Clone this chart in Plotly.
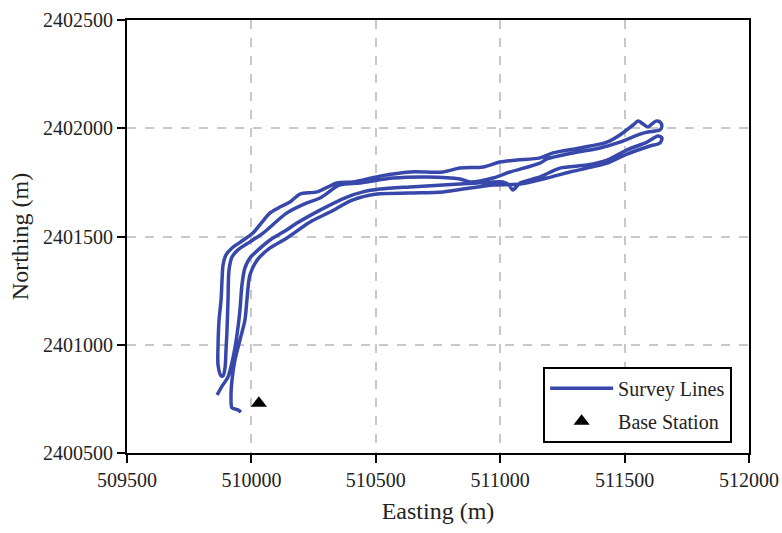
import plotly.graph_objects as go

# Survey line 1 (Easting, Northing in m)
line1_e = [509862, 509882, 509906, 509926, 509942, 509954, 509962, 509974, 509994, 510027,
           510075, 510135, 510183, 510276, 510384, 510449, 510517, 510637, 510770, 510907,
           511011, 511035, 511051, 511080, 511160, 511240, 511349, 511429, 511510, 511590,
           511634, 511650, 511642, 511602, 511510, 511429, 511349, 511280, 511188, 511080,
           510971, 510879, 510770, 510637, 510505, 510408, 510316, 510236, 510143, 510075,
           510023, 509994, 509982, 509974, 509954, 509934, 509922, 509918, 509922, 509946,
           509958]
line1_n = [2400768, 2400809, 2400851, 2400939, 2401045, 2401160, 2401276, 2401355, 2401401, 2401438,
           2401484, 2401525, 2401562, 2401622, 2401682, 2401706, 2401719, 2401729, 2401738, 2401747,
           2401752, 2401738, 2401715, 2401747, 2401775, 2401816, 2401830, 2401853, 2401900, 2401936,
           2401964, 2401955, 2401932, 2401918, 2401881, 2401839, 2401816, 2401798, 2401770, 2401742,
           2401738, 2401724, 2401706, 2401701, 2401696, 2401669, 2401613, 2401567, 2401493, 2401447,
           2401391, 2401322, 2401207, 2401114, 2401022, 2400930, 2400837, 2400754, 2400708, 2400699,
           2400689]

# Survey line 2
line2_e = [509878, 509866, 509866, 509870, 509878, 509882, 509886, 509898, 509922, 509962,
           510006, 510043, 510075, 510115, 510155, 510195, 510264, 510344, 510408, 510517,
           510637, 510770, 510838, 510931, 510999, 511067, 511160, 511212, 511321, 511429,
           511481, 511534, 511554, 511574, 511594, 511610, 511626, 511642, 511650, 511642,
           511622, 511594, 511562, 511481, 511401, 511293, 511188, 511160, 511039, 510971,
           510879, 510838, 510706, 510569, 510436, 510356, 510276, 510223, 510143, 510047,
           509994, 509946, 509922, 509910, 509906, 509902, 509898, 509894, 509886, 509878]
line2_n = [2400856, 2400906, 2400999, 2401114, 2401207, 2401299, 2401368, 2401415, 2401447, 2401479,
           2401516, 2401567, 2401609, 2401636, 2401659, 2401696, 2401706, 2401747, 2401752, 2401779,
           2401798, 2401798, 2401816, 2401821, 2401844, 2401853, 2401863, 2401886, 2401909, 2401936,
           2401969, 2402015, 2402033, 2402020, 2402006, 2402020, 2402033, 2402029, 2402010, 2401992,
           2401987, 2401983, 2401973, 2401936, 2401909, 2401886, 2401858, 2401839, 2401798, 2401770,
           2401752, 2401766, 2401775, 2401770, 2401747, 2401738, 2401678, 2401655, 2401609, 2401516,
           2401475, 2401438, 2401405, 2401345, 2401207, 2401068, 2400976, 2400893, 2400856, 2400856]

base_e = [510030]
base_n = [2400730]

x_ticks = [509500, 510000, 510500, 511000, 511500, 512000]
y_ticks = [2400500, 2401000, 2401500, 2402000, 2402500]

LINE_COLOR = "rgb(55,72,170)"
FONT = "Liberation Serif, Times New Roman, serif"

fig = go.Figure()
fig.add_trace(go.Scatter(x=line1_e, y=line1_n, mode="lines", name="Survey Lines",
                         line=dict(color=LINE_COLOR, width=3.5, shape="spline", smoothing=0.8),
                         legendgroup="a"))
fig.add_trace(go.Scatter(x=line2_e, y=line2_n, mode="lines", name="Survey Lines",
                         line=dict(color=LINE_COLOR, width=3.5, shape="spline", smoothing=0.8),
                         showlegend=False, legendgroup="a"))
fig.add_trace(go.Scatter(x=base_e, y=base_n, mode="markers", name="Base Station",
                         marker=dict(symbol="triangle-up", color="black", size=14), legendgroup="b"))

axis_common = dict(
    showline=True, linecolor="black", linewidth=2, mirror=True,
    ticks="outside", ticklen=8, tickwidth=2, tickcolor="black",
    showgrid=True, gridcolor="#c8c8c8", gridwidth=1.5, griddash="dash",
    zeroline=False, automargin=False, ticklabeloverflow="allow",
    tickfont=dict(family=FONT, size=20, color="#222"),
)

fig.update_xaxes(range=[509500, 512000], tickvals=x_ticks, ticktext=[str(v) for v in x_ticks],
                 title=dict(text="Easting (m)", font=dict(family=FONT, size=24, color="#222"), standoff=12),
                 **axis_common)
fig.update_yaxes(range=[2400500, 2402500], tickvals=y_ticks, ticktext=[str(v) for v in y_ticks],
                 title=dict(text="Northing (m)", font=dict(family=FONT, size=24, color="#222"), standoff=8),
                 **axis_common)

fig.update_layout(
    width=782, height=533,
    margin=dict(l=127, r=33, t=20, b=80),
    plot_bgcolor="white", paper_bgcolor="white",
    legend=dict(x=0.669, y=0.199, xanchor="left", yanchor="top",
                bordercolor="black", borderwidth=2, bgcolor="white",
                font=dict(family=FONT, size=20, color="#222"),
                tracegroupgap=4, itemwidth=63),
)

fig.write_html("out.html", config={"displayModeBar": False},
               post_script="document.body.style.margin='0px';")
